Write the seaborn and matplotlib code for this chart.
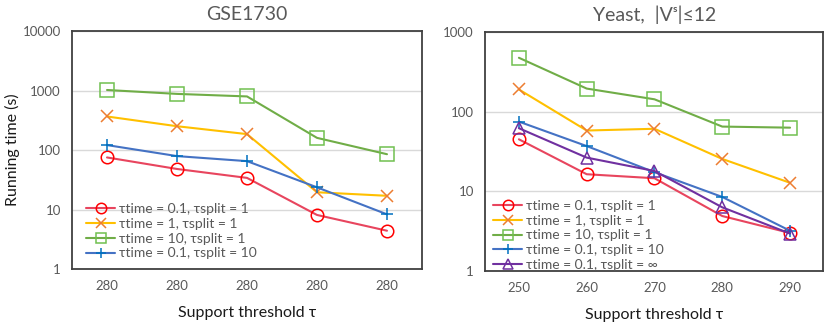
import numpy as np
import pandas as pd
import matplotlib
matplotlib.use("Agg")
import matplotlib.pyplot as plt
import seaborn as sns
from matplotlib.ticker import FixedLocator, FixedFormatter, NullLocator

sns.set_style("white")
plt.rcParams["font.family"] = ["Lato", "DejaVu Sans"]

# left panel: GSE1730
gse_labels = ["280", "280", "280", "280", "280"]
gse_red = [75, 48, 34, 8.1, 4.4]
gse_yellow = [366, 251, 185, 19.5, 17]
gse_green = [1020, 877, 795, 160, 85]
gse_blue = [121, 79, 65, 23.6, 8.3]

# right panel: Yeast
yeast_tau = [250, 260, 270, 280, 290]
yeast_red = [45, 16.4, 14.6, 4.9, 3.0]
yeast_yellow = [190, 58, 61, 25.5, 12.8]
yeast_green = [475, 195, 143, 65, 63]
yeast_blue = [75, 37, 17.4, 8.5, 3.2]
yeast_purple = [62, 26.5, 18, 6.3, 2.95]

names = ["τtime = 0.1, τsplit = 1", "τtime = 1, τsplit = 1",
         "τtime = 10, τsplit = 1", "τtime = 0.1, τsplit = 10",
         "τtime = 0.1, τsplit = ∞"]

styles = [
    dict(color="#E8455E", mec="#FF0000", marker="o"),
    dict(color="#FFC000", mec="#ED7D31", marker="x"),
    dict(color="#70AD47", mec="#70C050", marker="s"),
    dict(color="#4472C4", mec="#0070C0", marker="+"),
    dict(color="#7030A0", mec="#7030A0", marker="^"),
]

fig = plt.figure(figsize=(8.25, 3.26), dpi=100)
ax1 = fig.add_axes([0.0873, 0.1748, 0.4242, 0.7301])
ax2 = fig.add_axes([0.5879, 0.1687, 0.4100, 0.7331])


def draw(ax, x, series, anchor):
    for i, vals in enumerate(series):
        st = styles[i]
        sns.lineplot(x=x, y=vals, ax=ax, color=st["color"], marker=st["marker"],
                     ms=9 if st["marker"] != "s" else 9.5, mfc="none",
                     mec=st["mec"], mew=1.1, lw=1.5, label=names[i])
    ax.set_yscale("log")
    ax.yaxis.set_minor_locator(NullLocator())
    ax.grid(axis="y", which="major", color="#D9D9D9", lw=1)
    ax.set_axisbelow(True)
    for s in ax.spines.values():
        s.set_color("#404040")
        s.set_linewidth(1.3)
    ax.tick_params(axis="both", length=0, labelsize=9.5, labelcolor="#595959", pad=8)
    ax.set_xlabel("Support threshold τ", fontsize=11.5, color="#1a1a1a", labelpad=10)
    leg = ax.legend(loc="lower left", bbox_to_anchor=anchor, frameon=False,
                    fontsize=10, handlelength=2.1, handletextpad=0.3,
                    labelspacing=0.2, borderpad=0, borderaxespad=0,
                    labelcolor="#595959")
    for h in leg.legend_handles:
        h.set_markersize(7.5)


gse_pos = list(range(len(gse_labels)))
draw(ax1, gse_pos, [gse_red, gse_yellow, gse_green, gse_blue], (0.04, 0.04))
ax1.set_xlim(-0.5, 4.5)
ax1.set_xticks(gse_pos)
ax1.set_xticklabels(gse_labels)
ax1.set_ylim(1, 10000)
yt1 = [1, 10, 100, 1000, 10000]
ax1.yaxis.set_major_locator(FixedLocator(yt1))
ax1.yaxis.set_major_formatter(FixedFormatter([str(v) for v in yt1]))
ax1.set_ylabel("Running time (s)", fontsize=11.5, color="#1a1a1a")
ax1.yaxis.set_label_coords(-0.148, 0.5)
ax1.set_title("GSE1730", fontsize=14, color="#595959", pad=8)

draw(ax2, yeast_tau, [yeast_red, yeast_yellow, yeast_green, yeast_blue, yeast_purple],
     (0.024, 0.0))
ax2.set_xlim(245, 294.9)
ax2.set_xticks(yeast_tau)
ax2.set_ylim(1, 1000)
yt2 = [1, 10, 100, 1000]
ax2.yaxis.set_major_locator(FixedLocator(yt2))
ax2.yaxis.set_major_formatter(FixedFormatter([str(v) for v in yt2]))
ax2.set_ylabel("")
ax2.set_title("Yeast,  |Vˢ|≤12", fontsize=14, color="#595959", pad=8)

fig.savefig("out.png", dpi=100)
